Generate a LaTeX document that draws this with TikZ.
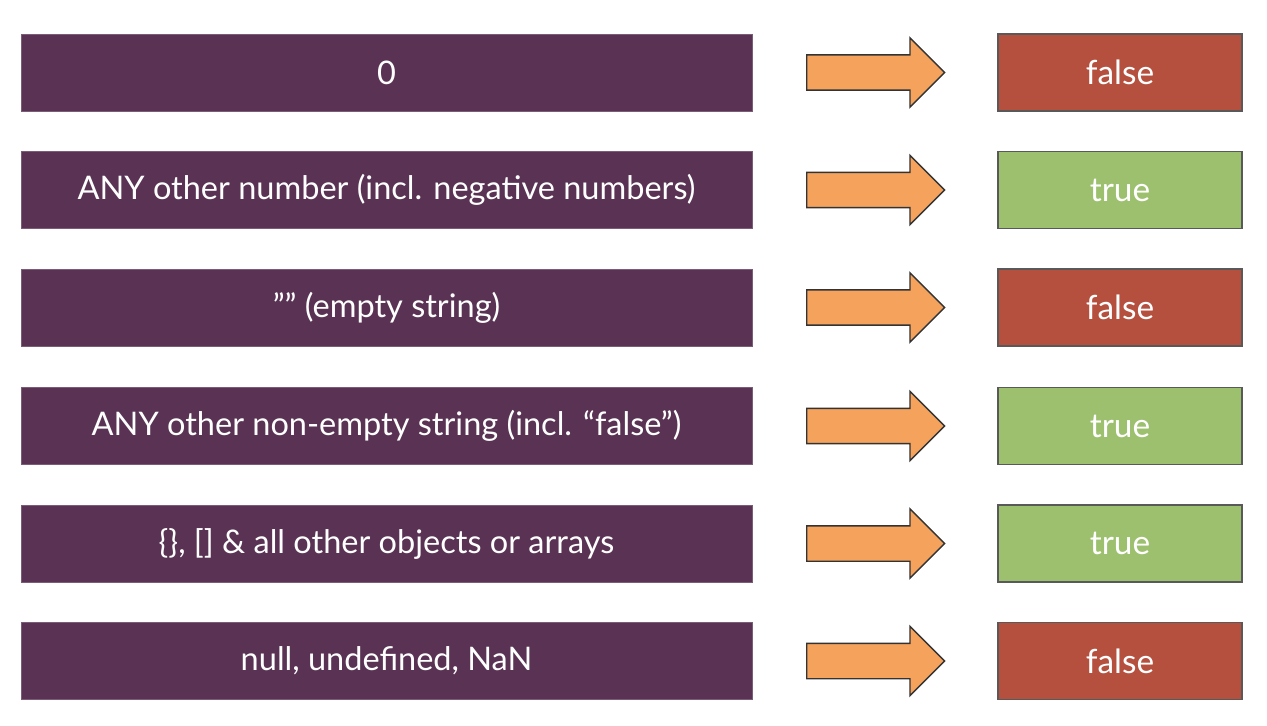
\documentclass[tikz,border=0pt]{standalone}
\usepackage{fontspec}
\setmainfont{Lato}
\usepackage{tikz}
\usetikzlibrary{positioning,shapes.arrows}
\definecolor{plum}{HTML}{5A3354}
\definecolor{redval}{HTML}{B5503F}
\definecolor{greenval}{HTML}{9DC06F}
\definecolor{orangearr}{HTML}{F4A25C}

\begin{document}
\begin{tikzpicture}[x=0.02cm, y=-0.02cm]
      \tikzset{
	  valuebox/.style={rectangle, fill=plum, draw=plum!80!white, line width=0.4pt, inner sep=0pt, minimum width=14.62cm, minimum height=1.54cm, text=white, font=\fontsize{18.5}{22}\selectfont},
	  falsebox/.style={rectangle, fill=redval, draw=black!65, line width=0.8pt, inner sep=0pt, minimum width=4.88cm, minimum height=1.54cm, text=white, font=\fontsize{19}{22}\selectfont},
	  truebox/.style={falsebox, fill=greenval},
	  convarrow/.style={single arrow, anchor=tail, fill=orangearr, draw=black!80, line width=0.8pt, inner xsep=0pt, inner ysep=0.34cm, minimum height=2.76cm, single arrow head extend=0.34cm, single arrow head indent=0pt},
      }
      \useasboundingbox (0,0) rectangle (1267,726);

      \node (v1) at (386.5, 72.5) [valuebox] {0};
      \node (a1) at (806, 72.5) [convarrow] {};
      \node (r1) at (1120, 72.5) [falsebox] {false};

      \node (v2) at (386.5, 190) [valuebox] {ANY other number (incl. negative numbers)};
      \node (a2) at (806, 190) [convarrow] {};
      \node (r2) at (1120, 190) [truebox] {true};

      \node (v3) at (386.5, 307.5) [valuebox] {”” (empty string)};
      \node (a3) at (806, 307.5) [convarrow] {};
      \node (r3) at (1120, 307.5) [falsebox] {false};

      \node (v4) at (386.5, 426) [valuebox] {ANY other non-empty string (incl. “false”)};
      \node (a4) at (806, 426) [convarrow] {};
      \node (r4) at (1120, 426) [truebox] {true};

      \node (v5) at (386.5, 543.5) [valuebox] {\{\}, [] \& all other objects or arrays};
      \node (a5) at (806, 543.5) [convarrow] {};
      \node (r5) at (1120, 543.5) [truebox] {true};

      \node (v6) at (386.5, 661) [valuebox] {null, undefined, NaN};
      \node (a6) at (806, 661) [convarrow] {};
      \node (r6) at (1120, 661) [falsebox] {false};
\end{tikzpicture}
\end{document}
